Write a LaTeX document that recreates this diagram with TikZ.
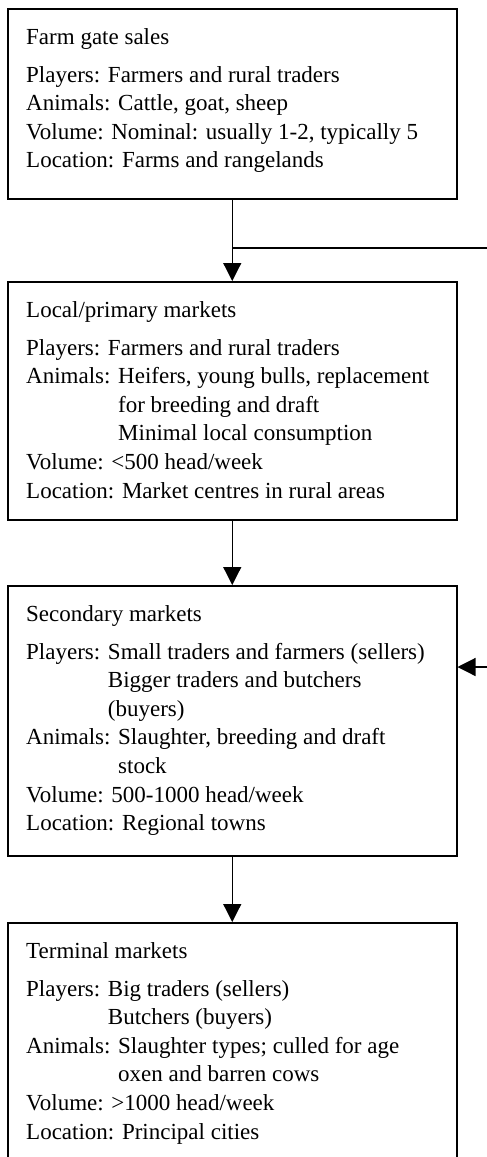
\documentclass[tikz,border=0pt]{standalone}
\usepackage{fontspec}
\setmainfont{Liberation Serif}
\usetikzlibrary{arrows.meta}

\begin{document}
\begin{tikzpicture}[x=1pt, y=-1pt,
        box/.style={draw, line width=1.5pt, anchor=north west, minimum width=449pt, inner sep=0pt},
        info/.style={anchor=north west, align=left, inner sep=0pt, font=\fontsize{23}{28.6}\selectfont},
        flow/.style={line width=1.2pt, -{Triangle[length=18pt, width=18pt]}}]
    \useasboundingbox (0, 0) rectangle (487, 1157);
    \foreach \name/\ya/\yb in {farm/8/198, local/281/519, secondary/585/855, terminal/922/1180}
        {\pgfmathsetmacro\boxh{\yb - \ya}
        \node[box, minimum height=\boxh pt] (\name) at (7, \ya) {};}
    \node[info] (farm-text) at ([shift={(19, 20)}]farm.north west) {Farm gate sales\\[9.4pt]
        Players: Farmers and rural traders\\
        Animals: Cattle, goat, sheep\\
        Volume: Nominal: usually 1-2, typically 5\\
        Location: Farms and rangelands};
    \node[info] (local-text) at ([shift={(19, 20)}]local.north west) {Local/primary markets\\[9.4pt]
        Players: Farmers and rural traders\\
        Animals: Heifers, young bulls, replacement\\
        \hphantom{Animals: }for breeding and draft\\
        \hphantom{Animals: }Minimal local consumption\\
        Volume: <500 head/week\\
        Location: Market centres in rural areas};
    \node[info] (secondary-text) at ([shift={(19, 20)}]secondary.north west) {Secondary markets\\[9.4pt]
        Players: Small traders and farmers (sellers)\\
        \hphantom{Players: }Bigger traders and butchers\\
        \hphantom{Players: }(buyers)\\
        Animals: Slaughter, breeding and draft\\
        \hphantom{Animals: }stock\\
        Volume: 500-1000 head/week\\
        Location: Regional towns};
    \node[info] (terminal-text) at ([shift={(19, 20)}]terminal.north west) {Terminal markets\\[9.4pt]
        Players: Big traders (sellers)\\
        \hphantom{Players: }Butchers (buyers)\\
        Animals: Slaughter types; culled for age\\
        \hphantom{Animals: }oxen and barren cows\\
        Volume: >1000 head/week\\
        Location: Principal cities};
    \foreach \from/\to in {farm/local, local/secondary, secondary/terminal}
        \draw[flow] (\from) -- (\to);
    % lines running off the right edge
    \coordinate (exit) at (490, 248);
    \coordinate (entry) at (490, 667);
    \draw[line width=1.2pt] (farm.south |- exit) -- (exit);
    \draw[flow] (entry) -- (entry -| secondary.east);
\end{tikzpicture}
\end{document}
